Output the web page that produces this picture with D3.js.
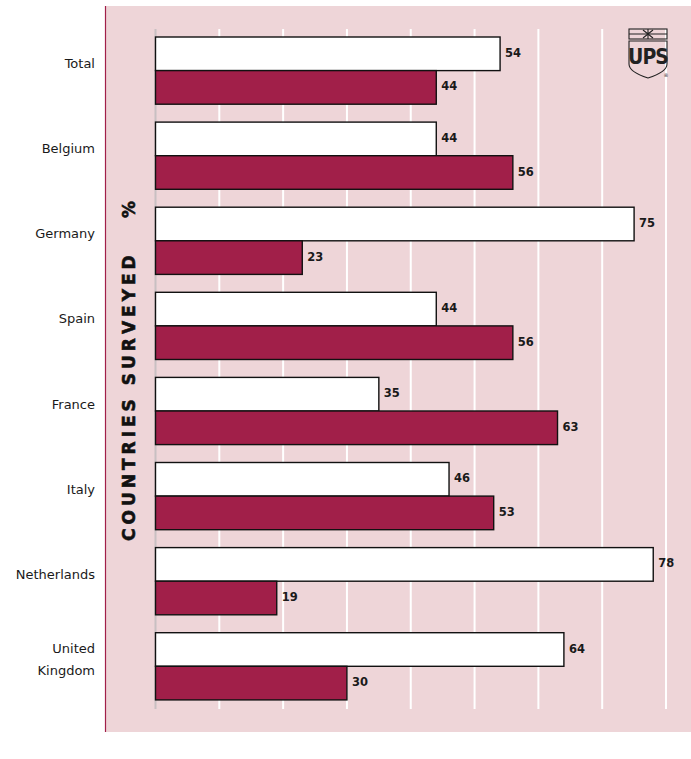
<!DOCTYPE html>
<html>
<head>
<meta charset="utf-8">
<script src="https://cdn.jsdelivr.net/npm/d3@7"></script>
<style>
  html, body { margin: 0; padding: 0; background: #ffffff; }
  svg { display: block; }
</style>
</head>
<body>
<div id="chart"></div>
<script>
// Survey results by country (percent)
const categories = ["Total", "Belgium", "Germany", "Spain", "France", "Italy", "Netherlands", "United Kingdom"];
const categoryLines = [["Total"], ["Belgium"], ["Germany"], ["Spain"], ["France"], ["Italy"], ["Netherlands"], ["United", "Kingdom"]];
const seriesA = [54, 44, 75, 44, 35, 46, 78, 64];   // white bars
const seriesB = [44, 56, 23, 56, 63, 53, 19, 30];   // red bars
const gridTicks = [0, 10, 20, 30, 40, 50, 60, 70, 80];

const W = 691, H = 759;
const pink = "#eed5d8", red = "#a11f49";

const svg = d3.select("#chart").append("svg")
  .attr("width", W).attr("height", H)
  .style("font-family", "'DejaVu Sans', 'Liberation Sans', sans-serif");

// Background panel and its left rule
svg.append("rect").attr("x", 105).attr("y", 6).attr("width", W - 105).attr("height", 726).attr("fill", pink);
svg.append("line").attr("x1", 105.5).attr("x2", 105.5).attr("y1", 6).attr("y2", 732)
  .attr("stroke", red).attr("stroke-width", 1.2);

const x = d3.scaleLinear().domain([0, 80]).range([155.5, 666]);
const step = 85.1, gap = 17.9;
const y = d3.scaleBand().domain(categories)
  .range([37, 37 + step * categories.length - gap])
  .paddingInner(gap / step).paddingOuter(0);
const barH = y.bandwidth() / 2;

// Vertical gridlines
svg.append("g").selectAll("line").data(gridTicks).join("line")
  .attr("x1", d => x(d)).attr("x2", d => x(d))
  .attr("y1", 29).attr("y2", 709)
  .attr("stroke", d => d === 0 ? "#c8c0c2" : "#ffffff")
  .attr("stroke-width", 2);

const groups = svg.append("g").selectAll("g").data(categories).join("g");

// White bars
groups.append("rect")
  .attr("x", x(0)).attr("y", d => y(d))
  .attr("width", (d, i) => x(seriesA[i]) - x(0)).attr("height", barH)
  .attr("fill", "#ffffff").attr("stroke", "#111").attr("stroke-width", 1.4);

// Red bars
groups.append("rect")
  .attr("x", x(0)).attr("y", d => y(d) + barH)
  .attr("width", (d, i) => x(seriesB[i]) - x(0)).attr("height", barH)
  .attr("fill", red).attr("stroke", "#111").attr("stroke-width", 1.4);

// Value labels
const valStyle = s => s.attr("font-size", 11.5).attr("font-weight", "bold")
  .attr("fill", "#1a1a1a").attr("dominant-baseline", "central");
groups.append("text")
  .attr("x", (d, i) => x(seriesA[i]) + 5).attr("y", d => y(d) + barH / 2 - 1)
  .text((d, i) => seriesA[i]).call(valStyle);
groups.append("text")
  .attr("x", (d, i) => x(seriesB[i]) + 5).attr("y", d => y(d) + barH * 1.5 - 1)
  .text((d, i) => seriesB[i]).call(valStyle);

// Category labels
groups.append("text")
  .attr("text-anchor", "end").attr("font-size", 13).attr("fill", "#1a1a1a")
  .each(function (d, i) {
    const lines = categoryLines[i];
    const cy = y(d) + y.bandwidth() / 2 - 7 - (lines.length - 1) * 11;
    d3.select(this).selectAll("tspan").data(lines).join("tspan")
      .attr("x", 95).attr("y", (l, j) => cy + j * 22)
      .attr("dominant-baseline", "central")
      .text(l => l);
  });

// Rotated axis title
const titleStyle = s => s.attr("font-size", 17).attr("font-weight", "bold")
  .attr("fill", "#111").attr("stroke", "#111").attr("stroke-width", 0.6);
svg.append("text")
  .attr("transform", "translate(135,541) rotate(-90)")
  .attr("letter-spacing", 4)
  .call(titleStyle)
  .text("COUNTRIES SURVEYED");
svg.append("text")
  .attr("transform", "translate(135,218) rotate(-90)")
  .call(titleStyle)
  .text("%");

// UPS emblem
const logo = svg.append("g").attr("transform", "translate(629,28)")
  .attr("fill", "none").attr("stroke", "#222").attr("stroke-width", 1.1);
logo.append("rect").attr("x", 0).attr("y", 1).attr("width", 38).attr("height", 10);
logo.append("line").attr("x1", 0).attr("x2", 38).attr("y1", 6).attr("y2", 6);
logo.append("path").attr("d", "M14,2 L24,10 M24,2 L14,10 M19,1 L19,11");
logo.append("path").attr("d", "M0,13 L38,13 L38,36 Q38,44 19,50 Q0,44 0,36 Z");
logo.append("text").attr("x", 19).attr("y", 36).attr("text-anchor", "middle")
  .attr("font-size", 21).attr("font-weight", "bold").attr("fill", "#222").attr("stroke", "none")
  .attr("letter-spacing", -1)
  .style("font-family", "'DejaVu Sans Condensed', sans-serif")
  .text("UPS");
logo.append("text").attr("x", 37).attr("y", 49).attr("text-anchor", "middle")
  .attr("font-size", 5).attr("fill", "#222").attr("stroke", "none").text("®");
</script>
</body>
</html>
